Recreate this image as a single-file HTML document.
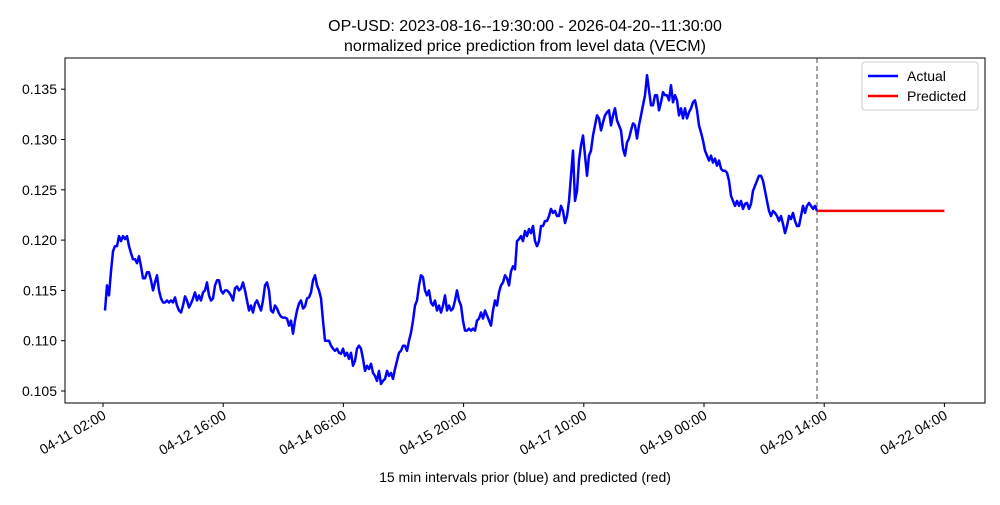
<!DOCTYPE html>
<html><head><meta charset="utf-8"><style>
body{margin:0;background:#fff;}
svg text{font-family:"Liberation Sans","DejaVu Sans",sans-serif;}
</style></head><body>
<svg id="chart" width="1000" height="500" xmlns="http://www.w3.org/2000/svg">
<rect width="1000" height="500" fill="#fff"/>
<text x="525" y="31" font-size="16" text-anchor="middle">OP-USD: 2023-08-16--19:30:00 - 2026-04-20--11:30:00</text>
<text x="525" y="51" font-size="16" text-anchor="middle">normalized price prediction from level data (VECM)</text>
<g id="yaxis"></g>
<g id="xaxis"></g>
<g id="series"></g>
<rect x="65" y="58" width="920" height="345" fill="none" stroke="#000" stroke-width="1"/>
<text x="525" y="482" font-size="14" text-anchor="middle">15 min intervals prior (blue) and predicted (red)</text>
<g>
<rect x="862" y="62" width="116" height="48" rx="3" fill="#fff" stroke="#ccc"/>
<line x1="868" y1="76" x2="898" y2="76" stroke="#0000ff" stroke-width="2.5"/>
<text x="907" y="81" font-size="14">Actual</text>
<line x1="868" y1="96" x2="898" y2="96" stroke="#ff0000" stroke-width="2.5"/>
<text x="907" y="101" font-size="14">Predicted</text>
</g>
</svg>
<script>
const yTicks=[0.105,0.110,0.115,0.120,0.125,0.130,0.135];
const yTickLabels=["0.105","0.110","0.115","0.120","0.125","0.130","0.135"];
const xTickHours=[0,38,76,114,152,190,228,266];
const xTickLabels=["04-11 02:00","04-12 16:00","04-14 06:00","04-15 20:00","04-17 10:00","04-19 00:00","04-20 14:00","04-22 04:00"];
const actualStartHour=0.632;
const actualStepHours=0.6323;
const actual=[.1130,.1155,.1145,.1169,.1189,.1194,.1194,.1204,.1199,.1204,.1201,.1204,.1194,.1187,.1181,.1181,.1177,.1184,.1174,.1162,.1162,.1168,.1168,.1160,.1150,.1158,.1165,.1150,.1142,.1138,.1138,.1140,.1138,.1140,.1138,.1143,.1135,.1130,.1128,.1135,.1144,.1140,.1133,.1137,.1142,.1148,.1140,.1145,.1140,.1148,.1150,.1158,.1145,.1140,.1142,.1155,.1160,.1160,.1150,.1147,.1150,.1150,.1148,.1145,.1140,.1152,.1154,.1150,.1152,.1158,.1150,.1140,.1130,.1135,.1128,.1137,.1140,.1135,.1130,.1140,.1155,.1158,.1150,.1130,.1128,.1135,.1132,.1127,.1124,.1123,.1123,.1122,.1115,.1120,.1107,.1120,.1130,.1137,.1140,.1132,.1134,.1142,.1143,.1148,.1160,.1165,.1155,.1150,.1142,.1120,.1100,.1100,.1100,.1095,.1092,.1090,.1092,.1088,.1087,.1092,
.1085,.1088,.1082,.1088,.1075,.1080,.1092,.1095,.1092,.1082,.1070,.1075,.1072,.1077,.1068,.1065,.1060,.1070,.1057,.1060,.1062,.1070,.1065,.1068,.1062,.1072,.1080,.1088,.1090,.1095,.1095,.1090,.1100,.1108,.1120,.1135,.1140,.1155,.1165,.1163,.1150,.1145,.1150,.1138,.1135,.1140,.1130,.1135,.1128,.1135,.1145,.1130,.1135,.1130,.1132,.1140,.1150,.1140,.1135,.1120,.1110,.1110,.1112,.1110,.1112,.1110,.1120,.1122,.1128,.1122,.1130,.1125,.1120,.1115,.1130,.1140,.1135,.1148,.1155,.1158,.1165,.1162,.1155,.1169,.1174,.1171,.1199,.1201,.1204,.1199,.1209,.1204,.1211,.1207,.1214,.1199,.1194,.1199,.1214,.1214,.1219,.1219,.1224,.1231,.1227,.1229,.1224,.1224,.1234,.1229,
.1217,.1224,.1239,.1264,.1289,.1239,.1249,.1279,.1294,.1304,.1284,.1264,.1284,.1289,.1304,.1314,.1324,.1321,.1309,.1317,.1324,.1327,.1329,.1314,.1324,.1331,.1319,.1314,.1309,.1291,.1284,.1297,.1301,.1309,.1316,.1314,.1301,.1314,.1324,.1334,.1344,.1364,.1349,.1334,.1334,.1344,.1344,.1329,.1337,.1347,.1344,.1344,.1339,.1354,.1337,.1344,.1339,.1324,.1331,.1321,.1331,.1321,.1327,.1331,.1337,.1339,.1329,.1314,.1307,.1299,.1289,.1284,.1279,.1284,.1277,.1281,.1274,.1279,.1271,.1269,.1269,.1267,.1259,.1244,.1239,.1234,.1239,.1234,.1239,.1231,.1236,.1237,.1231,.1236,.1249,.1254,.1259,.1264,.1264,.1259,.1249,.1239,.1229,.1224,.1229,.1227,.1224,.1219,.1224,.1216,.1207,.1214,.1224,.1221,.1227,.1219,.1214,.1214,.1224,.1234,.1227,.1234,.1237,.1234,.1231,.1234,.1229];
const predictedHours=[225.7,266];
const predicted=[0.1229,0.1229];

const NS="http://www.w3.org/2000/svg";
const X0=103,PXH=120.2/38;
const sx=h=>X0+h*PXH;
const sy=v=>391-(v-0.105)*10060;
function mk(tag,attrs,parent){const e=document.createElementNS(NS,tag);for(const k in attrs)e.setAttribute(k,attrs[k]);parent.appendChild(e);return e;}
const ya=document.getElementById('yaxis'),xa=document.getElementById('xaxis'),sr=document.getElementById('series');
yTicks.forEach((v,i)=>{
  const l=mk('line',{x1:61,x2:65,y1:sy(v),y2:sy(v),stroke:'#000'},ya);
  
  
  const t=mk('text',{x:57,y:sy(v)+5,'font-size':14,'text-anchor':'end'},ya);
  t.textContent=yTickLabels[i];
  
  
});
xTickHours.forEach((h,i)=>{
  const x=sx(h);
  const l=mk('line',{x1:x,x2:x,y1:403,y2:407,stroke:'#000'},xa);
  
  
  const t=mk('text',{x:x+4,y:418,'font-size':14,'text-anchor':'end',transform:`rotate(-30 ${x+4} 418)`},xa);
  t.textContent=xTickLabels[i];
  
  
});
const lastH=actualStartHour+(actual.length-1)*actualStepHours;
const vl=mk('line',{x1:sx(lastH),x2:sx(lastH),y1:58,y2:403,stroke:'#666','stroke-dasharray':'5,3','stroke-width':1.2},sr);


const pts=actual.map((v,i)=>sx(actualStartHour+i*actualStepHours).toFixed(1)+','+sy(v).toFixed(1)).join(' ');
const pa=mk('polyline',{points:pts,fill:'none',stroke:'#0000ff','stroke-width':2.5,'stroke-linejoin':'round'},sr);


const pp=mk('polyline',{points:predicted.map((v,i)=>sx(predictedHours[i])+','+sy(v)).join(' '),fill:'none',stroke:'#ff0000','stroke-width':2.5},sr);


</script>
</body></html>
